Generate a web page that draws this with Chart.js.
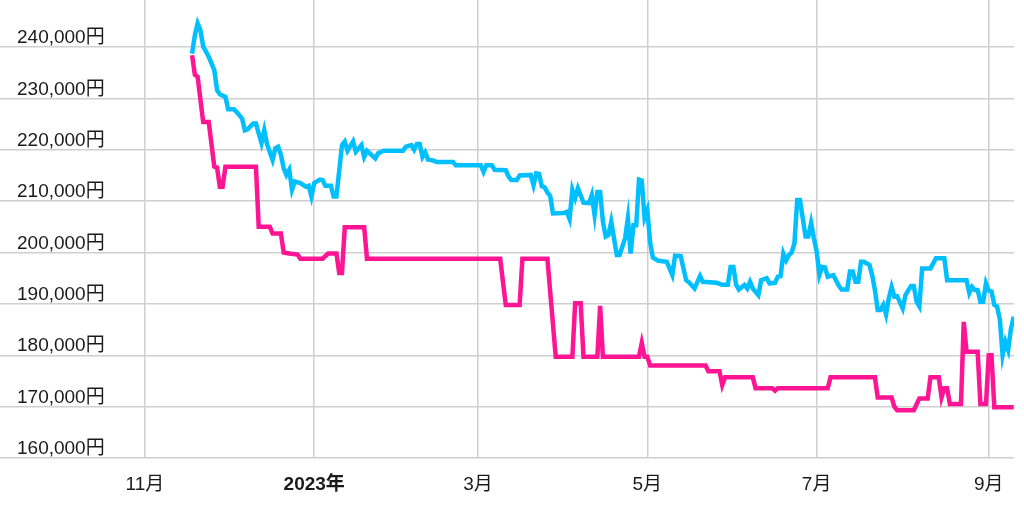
<!DOCTYPE html>
<html lang="ja">
<head>
<meta charset="UTF-8">
<title>価格推移グラフ</title>
<script src="https://cdn.jsdelivr.net/npm/chart.js"></script>
<style>
    html, body { margin: 0; padding: 0; background: #fff; }
    #wrap { width: 1024px; height: 514px; }
</style>
</head>
<body>
<div id="wrap"><canvas id="priceChart" width="1024" height="514"></canvas></div>
<script>
// 日付は 2022-11-01 からの経過日数
const xTickDays = [0, 61, 120, 181, 242, 304];
const xTickLabels = ['11月', '2023年', '3月', '5月', '7月', '9月'];
const yTickValues = [160000, 170000, 180000, 190000, 200000, 210000, 220000, 230000, 240000];

// 平均価格 (水色)
const bluePoints = [
    [17,238700],[18,242300],[19,244600],[20,243300],[21,240100],[23,238100],[25,235500],[26,231600],
    [27,230800],[29,230300],[30,227900],[32,227900],[33,227400],[35,226100],[36,223800],[37,224000],
    [39,225100],[40,225100],[42,221300],[43,223800],[44,221100],[46,218000],[47,220300],[48,220600],
    [49,219000],[50,216400],[51,215100],[52,216100],[53,212200],[54,213800],[56,213500],[58,212800],
    [59,213000],[60,210900],[61,213500],[63,214200],[64,214100],[65,213000],[67,213000],[68,210900],
    [69,210900],[71,220900],[72,221600],[73,219800],[75,221600],[76,219600],[78,220900],[79,218600],
    [80,219800],[83,218300],[84,219300],[86,219800],[93,219800],[94,220600],[96,220900],[97,220000],
    [98,221100],[99,221100],[100,218600],[101,219500],[102,218100],[104,217900],[105,217600],[111,217600],
    [112,217000],[121,217000],[122,215700],[123,217000],[125,217000],[126,216100],[130,216000],[131,214800],
    [132,214100],[134,214100],[135,215000],[139,215100],[140,213100],[141,215400],[142,215300],[143,212900],
    [144,212700],[145,211700],[146,211000],[147,207600],[151,207700],[152,207900],[153,206500],[154,212200],
    [155,210600],[156,212500],[158,209700],[160,209600],[161,211200],[162,207300],[163,211800],[164,211800],
    [165,206000],[166,203100],[167,203400],[168,206000],[170,199500],[171,199500],[173,202800],[174,206700],
    [175,199800],[176,205300],[177,205300],[178,214200],[179,214000],[180,206800],[181,208300],[182,202000],
    [183,199000],[185,198400],[188,198200],[190,195600],[191,199400],[193,199300],[195,194600],[196,194200],
    [198,193000],[200,195400],[201,194300],[206,194100],[208,193700],[210,193700],[211,197200],[212,197200],
    [213,193700],[214,192800],[216,193700],[217,193000],[218,194300],[219,193000],[221,191700],[222,194600],
    [224,195000],[225,194000],[227,194100],[228,195300],[229,195400],[230,199800],[231,198500],[232,199500],
    [233,200000],[234,201800],[235,210200],[236,210200],[238,203100],[239,203100],[240,205800],[241,202800],
    [242,200200],[243,195600],[244,197200],[245,197100],[246,195300],[248,195600],[250,193500],[251,192800],
    [253,192800],[254,196300],[255,196300],[256,194300],[257,194300],[258,198200],[259,198200],[261,197600],
    [262,195600],[263,192700],[264,188800],[265,188800],[266,189800],[267,187900],[268,191100],[269,193300],
    [270,191400],[271,191500],[273,189100],[274,191700],[276,193500],[277,193500],[278,190400],[279,189500],
    [280,196900],[283,196900],[285,198900],[288,198900],[289,194600],[296,194600],[297,192100],[298,193300],
    [299,192700],[300,192700],[301,190400],[302,190400],[303,194000],[304,192600],[305,192400],[306,189800],
    [307,189500],[308,187000],[309,180000],[310,182600],[311,181000],[312,185200],[313,187500]
];

// 最安価格 (ピンク)
const pinkPoints = [
    [17,238400],[18,234600],[19,234200],[21,225400],[23,225400],[25,216700],[26,216500],[27,212800],
    [28,212800],[29,216700],[40,216700],[41,205000],[45,205000],[46,203700],[49,203700],[50,200000],
    [52,199800],[55,199600],[56,198800],[64,198800],[66,199800],[69,199800],[70,196000],[71,196000],
    [72,204900],[79,204900],[80,198800],[128,198800],[130,189800],[135,189800],[136,198800],[145,198800],
    [148,179700],[154,179700],[155,190100],[157,190100],[158,179700],[163,179700],[164,189600],[165,179700],
    [178,179700],[179,182400],[180,179700],[181,179700],[182,178000],[202,178000],[203,176900],[207,176900],
    [208,174200],[209,175700],[219,175700],[220,173600],[226,173600],[227,173100],[228,173600],[246,173600],
    [247,175700],[263,175700],[264,171800],[269,171800],[270,170000],[271,169300],[277,169300],[279,171600],
    [282,171600],[283,175700],[286,175700],[287,171800],[288,173600],[289,173600],[290,170500],[294,170500],
    [295,186500],[296,180700],[300,180700],[301,170500],[303,170500],[304,180000],[305,180000],[306,169900],
    [313,169900]
];

const fontFamily = '"Liberation Sans", "Noto Sans CJK JP", sans-serif';

function toXY(points) {
    return points.map(p => ({x: p[0], y: p[1]}));
}

new Chart(document.getElementById('priceChart').getContext('2d'), {
    type: 'line',
    data: {
        datasets: [
            {
                label: '平均価格',
                data: toXY(bluePoints),
                borderColor: '#00bfff',
                borderWidth: 4.5,
                pointRadius: 0,
                tension: 0,
                fill: false
            },
            {
                label: '最安価格',
                data: toXY(pinkPoints),
                borderColor: '#ff1493',
                borderWidth: 4.5,
                pointRadius: 0,
                tension: 0,
                fill: false
            }
        ]
    },
    options: {
        responsive: false,
        animation: false,
        layout: {padding: {left: 0, right: 10, top: 0, bottom: 0}},
        plugins: {legend: {display: false}, tooltip: {enabled: false}},
        scales: {
            x: {
                type: 'linear',
                min: -52.2,
                max: 313.1,
                afterBuildTicks: s => { s.ticks = xTickDays.map(v => ({value: v})); },
                afterFit: s => { s.height = 56; s.paddingLeft = 0; s.paddingRight = 0; },
                grid: {color: '#cfcfcf', lineWidth: 1.5, drawTicks: false},
                border: {display: false},
                ticks: {
                    padding: 15,
                    maxRotation: 0,
                    autoSkip: false,
                    color: '#1a1a1a',
                    font: c => ({
                        family: fontFamily,
                        size: 19,
                        weight: (c.tick && c.tick.label === '2023年') ? 'bold' : 'normal'
                    }),
                    callback: v => xTickLabels[xTickDays.indexOf(v)]
                }
            },
            y: {
                type: 'linear',
                min: 160000,
                max: 249150,
                afterBuildTicks: s => { s.ticks = yTickValues.map(v => ({value: v})); },
                afterFit: s => { s.width = 0; s.paddingTop = 0; s.paddingBottom = 0; },
                grid: {color: '#cfcfcf', lineWidth: 1.5, drawTicks: false},
                border: {display: false},
                ticks: {
                    mirror: true,
                    padding: 17,
                    labelOffset: -9,
                    color: '#1a1a1a',
                    font: {family: fontFamily, size: 19},
                    callback: v => v.toLocaleString('ja-JP') + '円'
                }
            }
        }
    }
});
</script>
</body>
</html>
